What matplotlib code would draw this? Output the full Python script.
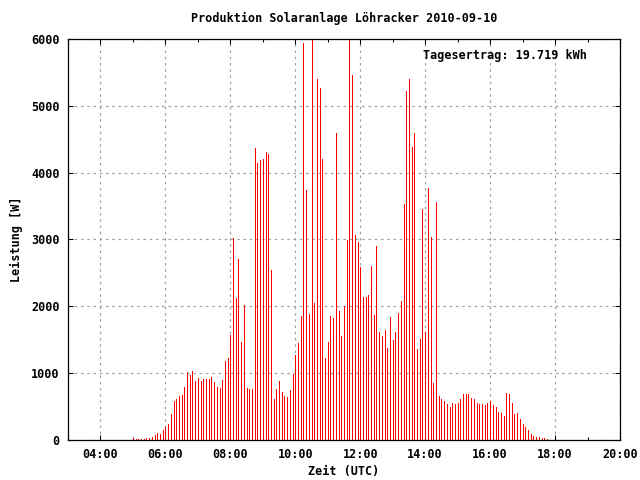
import matplotlib
matplotlib.use('Agg')
import matplotlib.pyplot as plt
import numpy as np
from matplotlib import ticker

# Messwerte alle 5 Minuten ab 05:00 UTC (Werte > 6000 werden abgeschnitten)
start_hour = 5.0
step_minutes = 5
leistung = [
    25, 15, 15, 15, 15, 30, 30, 45, 70, 100, 90, 150, 190, 240, 390, 585,
    615, 660, 675, 795, 1020, 975, 1035,
    890, 935, 890, 920, 920, 920, 950, 870, 800, 785, 905, 1175, 1220, 1565,
    3020, 2120, 2705, 1460, 2015, 785, 770, 770, 4365, 4140,
    4190, 4205, 4310, 4280, 2545, 615, 765, 885, 720, 660, 645, 750, 990,
    1270, 1450, 1855, 5945, 3740, 1885, 6200, 2050, 5405, 5270, 4205,
    1228, 1467, 1856, 1826, 4596, 1931, 1557, 2006, 2994, 6200, 5464, 3069,
    2964, 2590, 2141, 2141, 2171, 2605, 1871, 2904, 1617, 1557, 1647, 1377,
    1841,
    1497, 1617, 1901, 2081, 3533, 5224, 5404, 4386, 4596, 1362, 1512, 3458,
    1617, 3772, 3039, 853, 3563, 659, 614, 584, 539, 494, 554, 539,
    555, 615, 690, 690, 690, 630, 615, 555, 540, 540, 525, 555, 585, 525,
    495, 420, 405, 360, 705, 690, 555, 390, 405, 315,
    240, 195, 150, 90, 60, 45, 45, 30, 30, 15,
]
title = 'Produktion Solaranlage Löhracker 2010-09-10'
ertrag_text = 'Tagesertrag: 19.719 kWh'

times = start_hour + np.arange(len(leistung)) * step_minutes / 60.0

plt.rcParams['font.family'] = 'DejaVu Sans Mono'
plt.rcParams['font.weight'] = 'bold'
plt.rcParams['font.size'] = 8.5

fig = plt.figure(figsize=(6.4, 4.8), dpi=100)
ax = fig.add_axes([68 / 640, 40 / 480, 552 / 640, 401 / 480])

# impulses wie bei gnuplot: je Messwert eine senkrechte Linie
for t, w in zip(times, leistung):
    ax.plot([t, t], [0, w], color='#ff0000', linewidth=0.72, antialiased=False,
            solid_capstyle='butt', zorder=3)

ax.set_xlim(3, 20)
ax.set_ylim(0, 6000)
ax.xaxis.set_major_locator(ticker.MultipleLocator(2))
ax.xaxis.set_minor_locator(ticker.MultipleLocator(1))
ax.yaxis.set_major_locator(ticker.MultipleLocator(1000))
ax.xaxis.set_major_formatter(ticker.FuncFormatter(lambda x, _: f'{int(x):02d}:00'))

ax.grid(True, which='major', color='#a0a0a0', linestyle=(0, (2, 3)), linewidth=0.9, zorder=1)
ax.tick_params(which='both', direction='in', top=True, right=True, width=0.75)
ax.tick_params(which='major', length=3.5, pad=6)
ax.tick_params(which='minor', length=2.5)
for s in ax.spines.values():
    s.set_linewidth(0.9)
    s.set_zorder(4)

ax.set_title(title, pad=12, fontweight='bold', fontsize=8.5)
ax.set_xlabel('Zeit (UTC)', labelpad=3, fontweight='bold')
ax.set_ylabel('Leistung [W]', labelpad=6, fontweight='bold')

ax.text(0.94, 0.958, ertrag_text, transform=ax.transAxes, ha='right', va='center',
        fontweight='bold', zorder=5)

fig.savefig('out.png', dpi=100)
